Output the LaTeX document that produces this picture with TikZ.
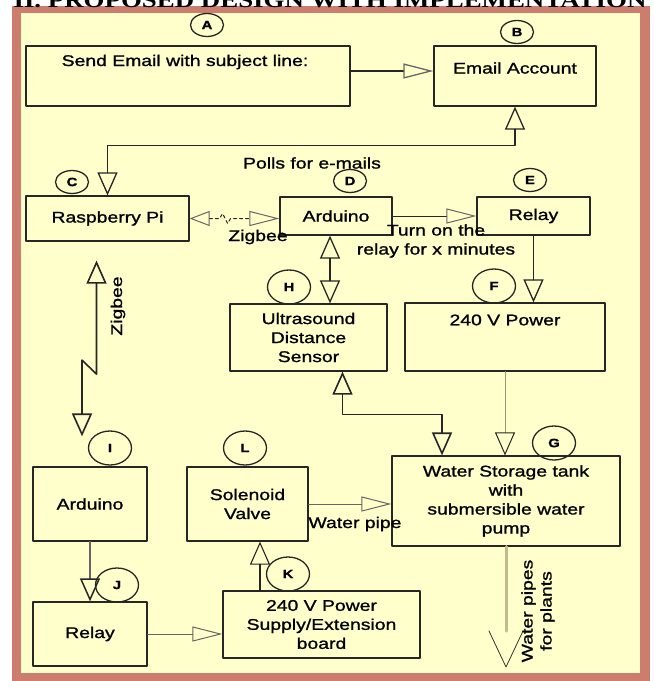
\documentclass[tikz,border=0pt]{standalone}
\usepackage{fontspec}
\setmainfont{Liberation Sans}[FakeStretch=1.25, FakeBold=1.2]
\newfontfamily\titlefont{Liberation Serif}[FakeStretch=1.25]
\usetikzlibrary{arrows.meta,shapes.geometric}

\definecolor{framecol}{RGB}{205,125,110}
\definecolor{panelcol}{RGB}{255,255,204}
\definecolor{pipecol}{RGB}{196,186,146}

\def\boxfont{\fontsize{15.5}{19}\selectfont}
\def\tagfont{\fontsize{12}{14}\selectfont\bfseries}

\begin{document}
\begin{tikzpicture}[x=1pt, y=-1pt, line cap=round, line join=round,
    box/.style={draw=black!85, line width=1.2pt, align=center, font=\boxfont, inner sep=1pt},
    tag/.style={ellipse, draw=black!85, line width=1.3pt, inner sep=0pt,
                minimum width=33pt, minimum height=23pt, font=\tagfont},
    bigtag/.style={tag, minimum width=43pt, minimum height=34pt},
    lbl/.style={font=\boxfont, align=center, inner sep=0pt},
    link/.style={draw=black!85, line width=1.3pt},
    vhead/.style={-{Triangle[open, length=23pt, width=20pt, color=black!85]}},
    vboth/.style={{Triangle[open, length=23pt, width=20pt]}-{Triangle[open, length=23pt, width=20pt]}},
    hhead/.style={-{Triangle[open, length=30pt, width=15pt, color=black!60]}},
    hboth/.style={{Triangle[open, length=20pt, width=15pt, color=black!60]}-{Triangle[open, length=30pt, width=15pt, color=black!60]}},
    pipe/.style={draw=pipecol, line width=3pt}
  ]
    \useasboundingbox (0,0) rectangle (654,681);

    % frame and title
    \fill[framecol] (12,6) rectangle (650,681);
    \fill[panelcol] (21,13) rectangle (640,673);
    \node[font=\titlefont\bfseries\fontsize{21.5}{24}\selectfont, anchor=base, inner sep=0pt]
        (title) at (330,7) {II. PROPOSED DESIGN WITH IMPLEMENTATION};

    % blocks
    \node[box, minimum width=324pt, minimum height=60pt] (boxA) at (188,76) {};
    \node[lbl] (tA) at (185,62) {Send Email with subject line:};
    \node[box, minimum width=162pt, minimum height=60pt] (boxB) at (515,76) {};
    \node[lbl] (tB) at (515,68) {Email Account};
    \node[box, minimum width=163pt, minimum height=45pt] (boxC) at (107.5,218.5) {Raspberry Pi};
    \node[box, minimum width=112pt, minimum height=38pt] (boxD) at (336,216) {Arduino};
    \node[box, minimum width=113pt, minimum height=38pt] (boxE) at (533.5,216) {Relay};
    \node[box, minimum width=157pt, minimum height=67pt] (boxH) at (308.5,337.5) {Ultrasound\\Distance\\Sensor};
    \node[box, minimum width=200pt, minimum height=68pt] (boxF) at (505,337) {};
    \node[lbl] (tF) at (505,320) {240 V Power};
    \node[box, minimum width=114pt, minimum height=74pt] (boxI) at (90,504) {Arduino};
    \node[box, minimum width=121pt, minimum height=74pt] (boxL) at (247.5,504) {Solenoid\\Valve};
    \node[box, minimum width=228pt, minimum height=90pt] (boxG) at (506,501)
        {Water Storage tank\\with\\submersible water\\pump};
    \node[box, minimum width=114pt, minimum height=64pt] (boxJ) at (90,634) {Relay};
    \node[box, minimum width=197pt, minimum height=67pt] (boxK) at (321.5,624.5)
        {240 V Power\\Supply/Extension\\board};

    % letter tags
    \node[tag] (cA) at (207,25) {A};
    \node[tag] (cB) at (517,32) {B};
    \node[tag] (cC) at (72,182) {C};
    \node[tag] (cD) at (350,181) {D};
    \node[tag] (cE) at (530,180) {E};
    \node[bigtag] (cH) at (289,287) {H};
    \node[bigtag] (cF) at (494,286) {F};
    \node[bigtag] (cG) at (554,443) {G};
    \node[bigtag] (cI) at (110,448) {I};
    \node[bigtag] (cL) at (245,448) {L};
    \node[bigtag] (cJ) at (117,585) {J};
    \node[bigtag] (cK) at (288,574) {K};

    % connections
    \draw[link, hhead] ([yshift=5pt]boxA.east) -- ([yshift=5pt]boxB.west);
    \draw[link, vboth] (boxB.south) -- ++(0,39) -| (boxC.north);
    \node[lbl] (tPolls) at (312,163) {Polls for e-mails};

    \draw[link, line width=1pt, dashed, hboth] (boxC.east) -- ++(30,0) -- ++(3,-5)
        -- ++(5,10) -- ++(3,-5) -- (boxD.west |- boxC.east);
    \node[lbl] (tZb) at (258,237) {Zigbee};

    \draw[link, line width=1pt, hhead] (boxD.east) -- (boxE.west);
    \node[lbl] (tTurn) at (436,241) {Turn on the\\relay for x minutes};

    \draw[link, vboth] ([xshift=-6pt]boxD.south) -- ([xshift=-6pt]boxD.south |- boxH.north);
    \draw[link, vhead] (boxE.south) -- (boxE.south |- boxF.north);
    \draw[link, line width=1.6pt, vboth] ([xshift=34pt]boxH.south) -- ++(0,43)
        -| ([xshift=-64pt]boxG.north);
    \draw[draw=pipecol!80!black, line width=1pt, vhead] (boxF.south) -- (boxF.south |- boxG.north);

    \coordinate (zb1) at ([xshift=-11pt,yshift=-19pt]boxC.south);
    \coordinate (zb4) at ([xshift=-8pt,yshift=30pt]boxI.north);
    \draw[link, line width=1.6pt, vboth] (zb1) -- ++(0,113.5) -- ++(-14.5,-14) -- (zb4);
    \node[lbl, rotate=90] (tZig) at (118,306) {Zigbee};

    \draw[link, draw=black!60, line width=1.5pt, vhead] (boxI.south) -- (boxI.south |- boxJ.north);
    \draw[link, draw=black!60, line width=1pt, hhead] (boxJ.east) -- (boxJ.east -| boxK.west);
    \draw[link, line width=1.1pt, vhead] ([xshift=-61.5pt]boxK.north)
        -- ([xshift=-61.5pt]boxK.north |- boxL.south);
    \draw[link, draw=black!60, line width=1pt, hhead] (boxL.east) -- (boxL.east -| boxG.west);
    \node[lbl] (tPipe) at (355,524) {Water pipe};

    \coordinate (plants) at (506,667);
    \draw[pipe] (boxG.south) -- ([yshift=36pt]plants);
    \draw[line width=0.8pt, black!80] ([xshift=-17pt,yshift=36pt]plants) -- (plants)
        -- ([xshift=17pt,yshift=36pt]plants);
    \node[lbl, rotate=90] (tPlants) at (538,611) {Water pipes\\for plants};

  \end{tikzpicture}
\end{document}
